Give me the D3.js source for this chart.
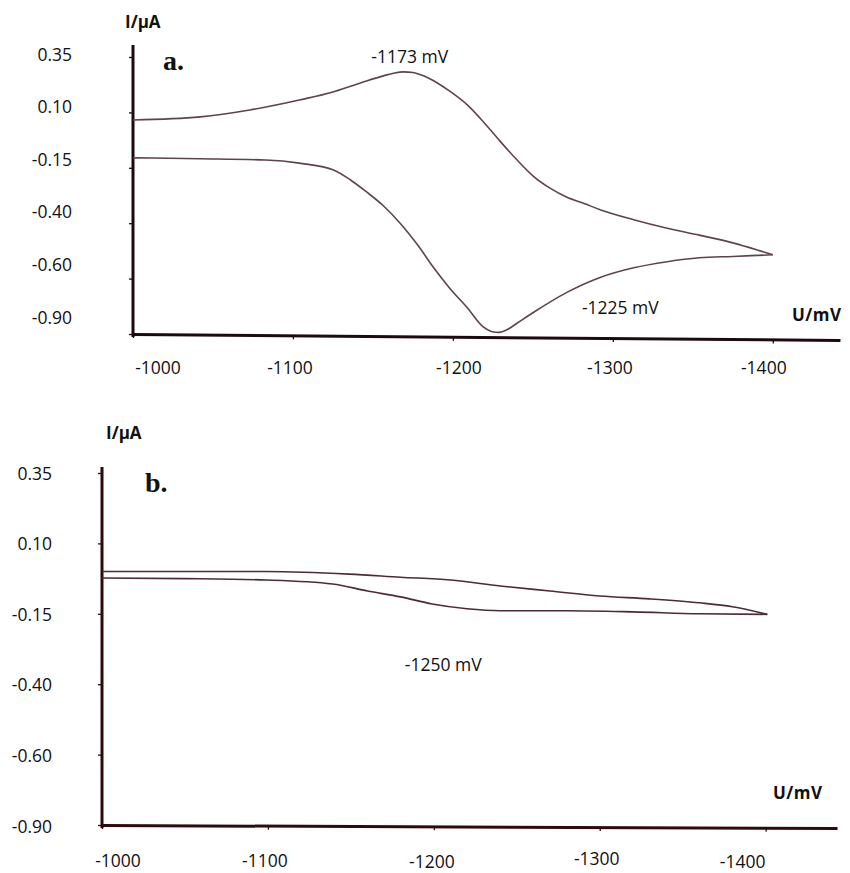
<!DOCTYPE html>
<html>
<head>
<meta charset="utf-8">
<script src="https://cdn.jsdelivr.net/npm/d3@7"></script>
<style>
  body { margin: 0; background: #fff; }
  text { font-family: "Open Sans", Lato, sans-serif; fill: #111; }
</style>
</head>
<body>
<div id="chart"></div>
<script>
// Tick values shared by both voltammograms
const potentialTicks = [-1000, -1100, -1200, -1300, -1400];
const currentTicks = [0.35, 0.10, -0.15, -0.40, -0.60, -0.90];

// Panel a: scan towards -1400 mV (upper branch) and back (lower branch), [U mV, I µA]
const aForward = [
    [-1000, 0.066], [-1042, 0.080], [-1073, 0.111], [-1104, 0.156], [-1125, 0.192],
    [-1136, 0.218], [-1146, 0.242], [-1157, 0.266], [-1163, 0.277], [-1169, 0.283],
    [-1175, 0.280], [-1182, 0.264], [-1190, 0.234], [-1198, 0.196], [-1209, 0.134],
    [-1219, 0.058], [-1229, -0.026], [-1240, -0.114], [-1250, -0.186], [-1261, -0.243],
    [-1271, -0.282], [-1282, -0.311], [-1292, -0.339], [-1313, -0.384], [-1334, -0.418],
    [-1354, -0.443], [-1375, -0.471], [-1396, -0.507], [-1400, -0.514]
];
const aReverse = [
    [-1400, -0.514], [-1375, -0.520], [-1354, -0.525], [-1334, -0.539], [-1313, -0.561],
    [-1292, -0.596], [-1271, -0.676], [-1250, -0.785], [-1240, -0.842], [-1234, -0.876],
    [-1229, -0.891], [-1224, -0.886], [-1219, -0.862], [-1209, -0.758], [-1198, -0.652],
    [-1188, -0.561], [-1178, -0.479], [-1167, -0.400], [-1156, -0.318], [-1146, -0.259],
    [-1136, -0.205], [-1125, -0.159], [-1104, -0.129], [-1083, -0.115], [-1042, -0.109],
    [-1000, -0.105]
];
const aPeaks = [
    { u: -1173, label: "-1173 mV" },
    { u: -1225, label: "-1225 mV" }
];

// Panel b
const bForward = [
    [-1000, 0.000], [-1050, 0.000], [-1099, 0.000], [-1149, -0.009], [-1180, -0.020],
    [-1210, -0.030], [-1240, -0.051], [-1270, -0.069], [-1300, -0.087], [-1330, -0.097],
    [-1360, -0.111], [-1380, -0.125], [-1401, -0.152]
];
const bReverse = [
    [-1401, -0.152], [-1360, -0.150], [-1320, -0.143], [-1280, -0.139], [-1240, -0.139],
    [-1220, -0.132], [-1199, -0.115], [-1180, -0.090], [-1160, -0.069], [-1139, -0.044],
    [-1099, -0.030], [-1050, -0.025], [-1000, -0.023]
];
const bPeaks = [
    { u: -1250, label: "-1250 mV" }
];

const width = 850;
const height = 873;

const svg = d3.select("#chart")
    .append("svg")
    .attr("width", width)
    .attr("height", height);

function drawPanel(p) {
    const g = svg.append("g");

    const x = d3.scaleLinear()
        .domain([-1000, p.uEnd])
        .range([p.x0, p.x1]);

    // tick values are uneven but evenly spaced on the paper -> piecewise scale
    const n = currentTicks.length - 1;
    const y = d3.scaleLinear()
        .domain(currentTicks)
        .range(currentTicks.map((d, i) => p.yTop + i * (p.yBottom - p.yTop) / n));
    const labelY = d3.scaleLinear()
        .domain(currentTicks)
        .range(currentTicks.map((d, i) => p.yLabelTop + i * (p.yLabelBottom - p.yLabelTop) / n));

    // y axis
    const yAxis = g.append("g")
        .attr("transform", `translate(${p.x0}, 0)`)
        .call(d3.axisLeft(y).tickValues(currentTicks).tickFormat("").tickSize(4).tickSizeOuter(0));
    yAxis.select(".domain").remove();
    yAxis.selectAll(".tick line").attr("stroke", p.axisColor).attr("stroke-width", 1.3);
    yAxis.append("line")
        .attr("x1", 0).attr("x2", 0)
        .attr("y1", p.axisTop).attr("y2", p.yBottom + 3)
        .attr("stroke", p.axisColor)
        .attr("stroke-width", 3);

    g.selectAll(".ylab")
        .data(currentTicks)
        .enter()
        .append("text")
        .attr("x", p.yLabelRight)
        .attr("y", d => labelY(d) + 6.5)
        .attr("text-anchor", "end")
        .style("font-size", "17.5px")
        .text(d => d.toFixed(2));

    // x axis, slightly tilted like the scanned original
    const tilt = Math.atan2(p.tilt, p.x1 - p.x0) * 180 / Math.PI;
    const xAxis = g.append("g")
        .attr("transform", `rotate(${tilt}, ${p.x0}, ${p.yBottom}) translate(0, ${p.yBottom})`)
        .call(d3.axisBottom(x).tickValues(potentialTicks).tickFormat("").tickSize(4).tickSizeOuter(0));
    xAxis.select(".domain").attr("stroke", p.axisColor).attr("stroke-width", 3);
    xAxis.selectAll(".tick line").attr("stroke", p.axisColor).attr("stroke-width", 1.3);

    g.selectAll(".xlab")
        .data(potentialTicks)
        .enter()
        .append("text")
        .attr("x", (d, i) => x(d) + p.xLabelShift[i])
        .attr("y", (d, i) => p.xLabelY + p.xLabelDy[i])
        .attr("text-anchor", "middle")
        .style("font-size", "17.5px")
        .text(d => d);

    // voltammogram branches; sorted so screen x increases for monotone smoothing
    const line = d3.line()
        .x(d => x(d[0]))
        .y(d => y(d[1]))
        .curve(d3.curveMonotoneX);

    [p.forward, p.reverse].forEach(branch => {
        g.append("path")
            .datum(branch.slice().sort((a, b) => b[0] - a[0]))
            .attr("d", line)
            .attr("fill", "none")
            .attr("stroke", p.curveColor)
            .attr("stroke-width", 1.6);
    });

    // peak potentials
    p.peaks.forEach((pk, i) => {
        g.append("text")
            .attr("x", x(pk.u) + p.peakPos[i].dx)
            .attr("y", p.peakPos[i].y)
            .attr("text-anchor", p.peakPos[i].anchor)
            .style("font-size", "17.5px")
            .text(pk.label);
    });

    // axis titles and panel letter
    g.append("text")
        .attr("x", p.iTitle[0])
        .attr("y", p.iTitle[1])
        .style("font-size", "17px")
        .style("font-weight", "bold")
        .text("I/µA");

    g.append("text")
        .attr("x", p.uTitle[0])
        .attr("y", p.uTitle[1])
        .style("font-size", "17px")
        .style("font-weight", "bold")
        .style("letter-spacing", "0.5px")
        .text("U/mV");

    g.append("text")
        .attr("x", p.letterPos[0])
        .attr("y", p.letterPos[1])
        .style("font-family", "'Liberation Serif', 'DejaVu Serif', serif")
        .style("font-size", "28px")
        .style("font-weight", "bold")
        .text(p.letter);
}

drawPanel({
    forward: aForward, reverse: aReverse, peaks: aPeaks, letter: "a.",
    x0: 133, x1: 840, uEnd: -1442, tilt: 6,
    yTop: 57, yBottom: 334, axisTop: 45,
    yLabelRight: 72, yLabelTop: 54, yLabelBottom: 317,
    xLabelY: 374, xLabelShift: [25, -3, 6, -3, -9], xLabelDy: [0, 0, 0, 0, 0],
    peakPos: [{ dx: 0, y: 63, anchor: "middle" }, { dx: 89, y: 314, anchor: "start" }],
    iTitle: [125, 28], uTitle: [792, 321], letterPos: [163, 70],
    axisColor: "#1c0a0e", curveColor: "#5e4250"
});

drawPanel({
    forward: bForward, reverse: bReverse, peaks: bPeaks, letter: "b.",
    x0: 102, x1: 837, uEnd: -1443, tilt: 3,
    yTop: 473, yBottom: 825, axisTop: 467,
    yLabelRight: 52, yLabelTop: 473, yLabelBottom: 826,
    xLabelY: 867, xLabelShift: [16, -3, -2, -3, -23], xLabelDy: [0, 0, 1, -2, 1],
    peakPos: [{ dx: -112, y: 671, anchor: "start" }],
    iTitle: [106, 439], uTitle: [773, 799], letterPos: [145, 492],
    axisColor: "#2e0a0e", curveColor: "#4e2a34"
});
</script>
</body>
</html>
